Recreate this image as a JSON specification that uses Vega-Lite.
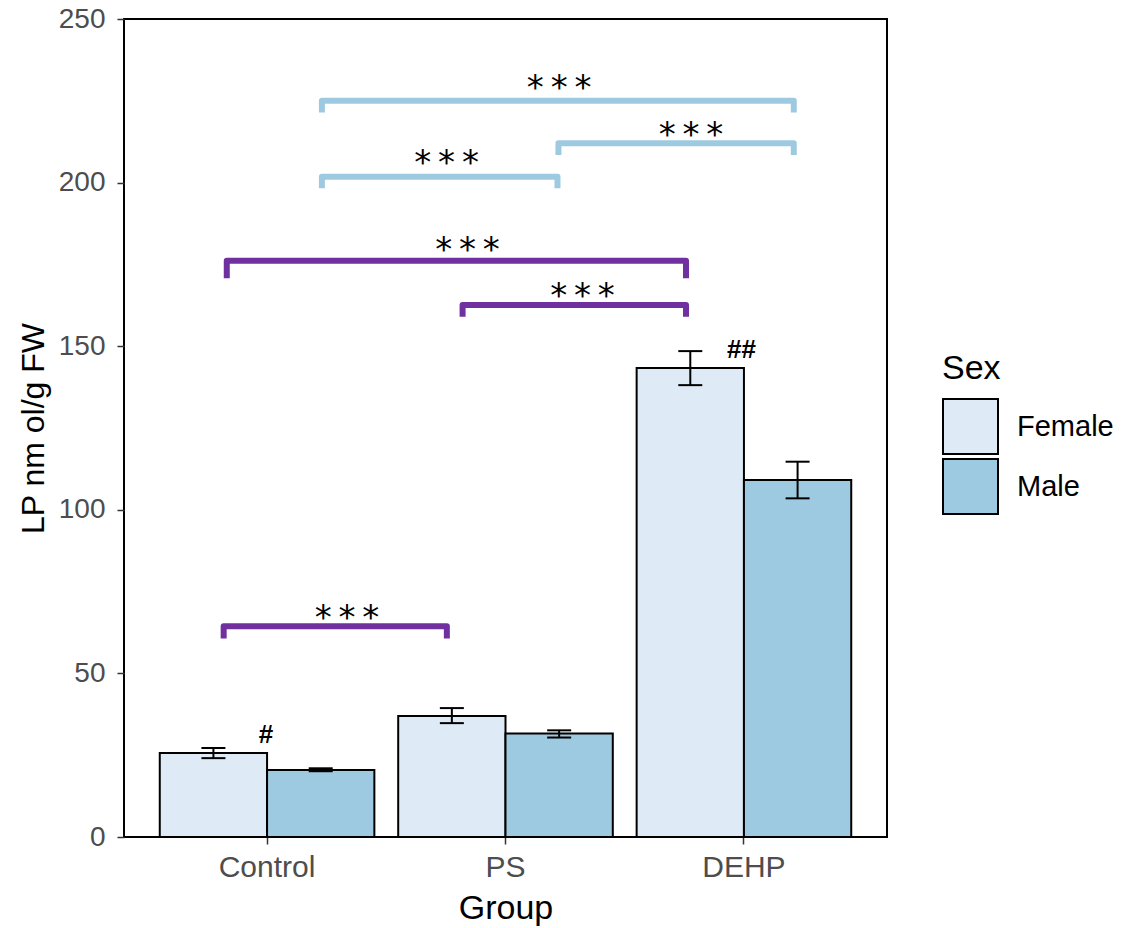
{
  "$schema": "https://vega.github.io/schema/vega-lite/v6.json",
  "width": 763,
  "height": 818,
  "autosize": {"type": "none"},
  "padding": {"left": 124, "top": 19, "right": 239, "bottom": 91},
  "background": "white",
  "config": {
    "font": "Liberation Sans",
    "view": {"stroke": "black", "strokeWidth": 2},
    "axis": {"grid": false, "domain": false}
  },
  "datasets": {
    "bars": [
      {"Group": "Control", "Sex": "Female", "Mean": 25.7, "Lower": 24.1, "Upper": 27.2},
      {"Group": "Control", "Sex": "Male", "Mean": 20.5, "Lower": 20.1, "Upper": 21.0},
      {"Group": "PS", "Sex": "Female", "Mean": 37.0, "Lower": 34.8, "Upper": 39.4},
      {"Group": "PS", "Sex": "Male", "Mean": 31.6, "Lower": 30.4, "Upper": 32.6},
      {"Group": "DEHP", "Sex": "Female", "Mean": 143.3, "Lower": 138.1, "Upper": 148.5},
      {"Group": "DEHP", "Sex": "Male", "Mean": 109.1, "Lower": 103.5, "Upper": 114.7}
    ],
    "brackets": [
      {"bracket": "F_Control_PS", "Compared": "Female", "order": 1, "x": 0.818, "y": 60.7},
      {"bracket": "F_Control_PS", "Compared": "Female", "order": 2, "x": 0.818, "y": 64.4},
      {"bracket": "F_Control_PS", "Compared": "Female", "order": 3, "x": 1.754, "y": 64.4},
      {"bracket": "F_Control_PS", "Compared": "Female", "order": 4, "x": 1.754, "y": 60.7},
      {"bracket": "F_Control_DEHP", "Compared": "Female", "order": 1, "x": 0.831, "y": 170.8},
      {"bracket": "F_Control_DEHP", "Compared": "Female", "order": 2, "x": 0.831, "y": 176.1},
      {"bracket": "F_Control_DEHP", "Compared": "Female", "order": 3, "x": 2.757, "y": 176.1},
      {"bracket": "F_Control_DEHP", "Compared": "Female", "order": 4, "x": 2.757, "y": 170.8},
      {"bracket": "F_PS_DEHP", "Compared": "Female", "order": 1, "x": 1.820, "y": 159.0},
      {"bracket": "F_PS_DEHP", "Compared": "Female", "order": 2, "x": 1.820, "y": 162.6},
      {"bracket": "F_PS_DEHP", "Compared": "Female", "order": 3, "x": 2.757, "y": 162.6},
      {"bracket": "F_PS_DEHP", "Compared": "Female", "order": 4, "x": 2.757, "y": 159.0},
      {"bracket": "M_Control_PS", "Compared": "Male", "order": 1, "x": 1.230, "y": 198.3},
      {"bracket": "M_Control_PS", "Compared": "Male", "order": 2, "x": 1.230, "y": 201.8},
      {"bracket": "M_Control_PS", "Compared": "Male", "order": 3, "x": 2.218, "y": 201.8},
      {"bracket": "M_Control_PS", "Compared": "Male", "order": 4, "x": 2.218, "y": 198.3},
      {"bracket": "M_PS_DEHP", "Compared": "Male", "order": 1, "x": 2.222, "y": 208.4},
      {"bracket": "M_PS_DEHP", "Compared": "Male", "order": 2, "x": 2.222, "y": 212.0},
      {"bracket": "M_PS_DEHP", "Compared": "Male", "order": 3, "x": 3.209, "y": 212.0},
      {"bracket": "M_PS_DEHP", "Compared": "Male", "order": 4, "x": 3.209, "y": 208.4},
      {"bracket": "M_Control_DEHP", "Compared": "Male", "order": 1, "x": 1.230, "y": 221.4},
      {"bracket": "M_Control_DEHP", "Compared": "Male", "order": 2, "x": 1.230, "y": 225.0},
      {"bracket": "M_Control_DEHP", "Compared": "Male", "order": 3, "x": 3.209, "y": 225.0},
      {"bracket": "M_Control_DEHP", "Compared": "Male", "order": 4, "x": 3.209, "y": 221.4}
    ],
    "stars": [
      {"label": "*\u2009*\u2009*", "x": 1.335, "y": 69.5},
      {"label": "*\u2009*\u2009*", "x": 1.841, "y": 181.7},
      {"label": "*\u2009*\u2009*", "x": 2.323, "y": 167.9},
      {"label": "*\u2009*\u2009*", "x": 1.753, "y": 208.3},
      {"label": "*\u2009*\u2009*", "x": 2.778, "y": 217.1},
      {"label": "*\u2009*\u2009*", "x": 2.225, "y": 231.5}
    ],
    "hashes": [
      {"label": "#", "x": 0.995, "y": 31.3},
      {"label": "##", "x": 2.99, "y": 148.8}
    ]
  },
  "layer": [
    {
      "data": {"name": "bars"},
      "encoding": {
        "x": {
          "field": "Group", "type": "nominal", "sort": ["Control", "PS", "DEHP"],
          "scale": {"paddingInner": 0.1, "paddingOuter": 0.15},
          "axis": {
            "title": "Group", "titleFontSize": 34, "titleFontWeight": "normal", "titleColor": "black",
            "labelFontSize": 30, "labelColor": "#4d4d4d", "labelAngle": 0,
            "tickColor": "#333333", "tickSize": 7, "tickWidth": 1.5, "labelPadding": 8, "titlePadding": 9
          }
        },
        "xOffset": {"field": "Sex", "type": "nominal", "sort": ["Female", "Male"], "scale": {"paddingInner": 0, "paddingOuter": 0}}
      },
      "layer": [
        {
          "mark": {"type": "bar", "stroke": "black", "strokeWidth": 2},
          "encoding": {
            "y": {
              "field": "Mean", "type": "quantitative", "title": "LP nm ol/g FW",
              "scale": {"domain": [0, 250], "nice": false},
              "axis": {
                "values": [0, 50, 100, 150, 200, 250],
                "titleFontSize": 32, "titleFontWeight": "normal", "titleColor": "black", "titlePadding": 8,
                "labelFontSize": 28, "labelColor": "#4d4d4d",
                "tickColor": "#333333", "tickSize": 7, "tickWidth": 1.5, "labelPadding": 12
              }
            },
            "fill": {
              "field": "Sex", "type": "nominal",
              "scale": {"domain": ["Female", "Male"], "range": ["#deebf7", "#9ecae1"]},
              "legend": {
                "orient": "none", "legendX": 818, "legendY": 333,
                "title": "Sex", "titleFontSize": 34, "titleFontWeight": "normal", "titleColor": "black", "titlePadding": 12,
                "labelFontSize": 29, "labelColor": "black", "labelOffset": 18,
                "symbolType": "square", "symbolSize": 3025, "symbolStrokeColor": "black", "symbolStrokeWidth": 2,
                "symbolOpacity": 1, "rowPadding": -12
              }
            }
          }
        },
        {
          "mark": {"type": "rule", "color": "black", "strokeWidth": 2},
          "encoding": {
            "y": {"field": "Lower", "type": "quantitative", "title": "LP nm ol/g FW", "scale": {"domain": [0, 250], "nice": false}},
            "y2": {"field": "Upper"}
          }
        },
        {
          "mark": {"type": "tick", "color": "black", "thickness": 2, "size": 24, "opacity": 1},
          "encoding": {
            "y": {"field": "Lower", "type": "quantitative", "title": "LP nm ol/g FW", "scale": {"domain": [0, 250], "nice": false}}
          }
        },
        {
          "mark": {"type": "tick", "color": "black", "thickness": 2, "size": 24, "opacity": 1},
          "encoding": {
            "y": {"field": "Upper", "type": "quantitative", "title": "LP nm ol/g FW", "scale": {"domain": [0, 250], "nice": false}}
          }
        }
      ]
    },
    {
      "encoding": {
        "x": {"field": "x", "type": "quantitative", "scale": {"domain": [0.4, 3.6], "nice": false, "zero": false}, "axis": null},
        "y": {"field": "y", "type": "quantitative", "title": "LP nm ol/g FW", "scale": {"domain": [0, 250], "nice": false}}
      },
      "layer": [
        {
          "data": {"name": "brackets"},
          "transform": [{"filter": "datum.Compared === 'Female'"}],
          "mark": {"type": "line", "strokeWidth": 6, "strokeJoin": "round", "strokeCap": "butt", "color": "#7030a0"},
          "encoding": {
            "detail": {"field": "bracket"},
            "order": {"field": "order"}
          }
        },
        {
          "data": {"name": "brackets"},
          "transform": [{"filter": "datum.Compared === 'Male'"}],
          "mark": {"type": "line", "strokeWidth": 6, "strokeJoin": "round", "strokeCap": "butt", "color": "#9ecae1"},
          "encoding": {
            "detail": {"field": "bracket"},
            "order": {"field": "order"}
          }
        },
        {
          "data": {"name": "stars"},
          "mark": {"type": "text", "font": "DejaVu Sans", "fontSize": 34, "baseline": "alphabetic", "dy": 19, "color": "black"},
          "encoding": {
            "text": {"field": "label"}
          }
        },
        {
          "data": {"name": "hashes"},
          "mark": {"type": "text", "fontSize": 26, "fontWeight": "bold", "baseline": "middle", "color": "black"},
          "encoding": {
            "text": {"field": "label"}
          }
        }
      ]
    }
  ],
  "resolve": {"scale": {"x": "independent"}}
}
